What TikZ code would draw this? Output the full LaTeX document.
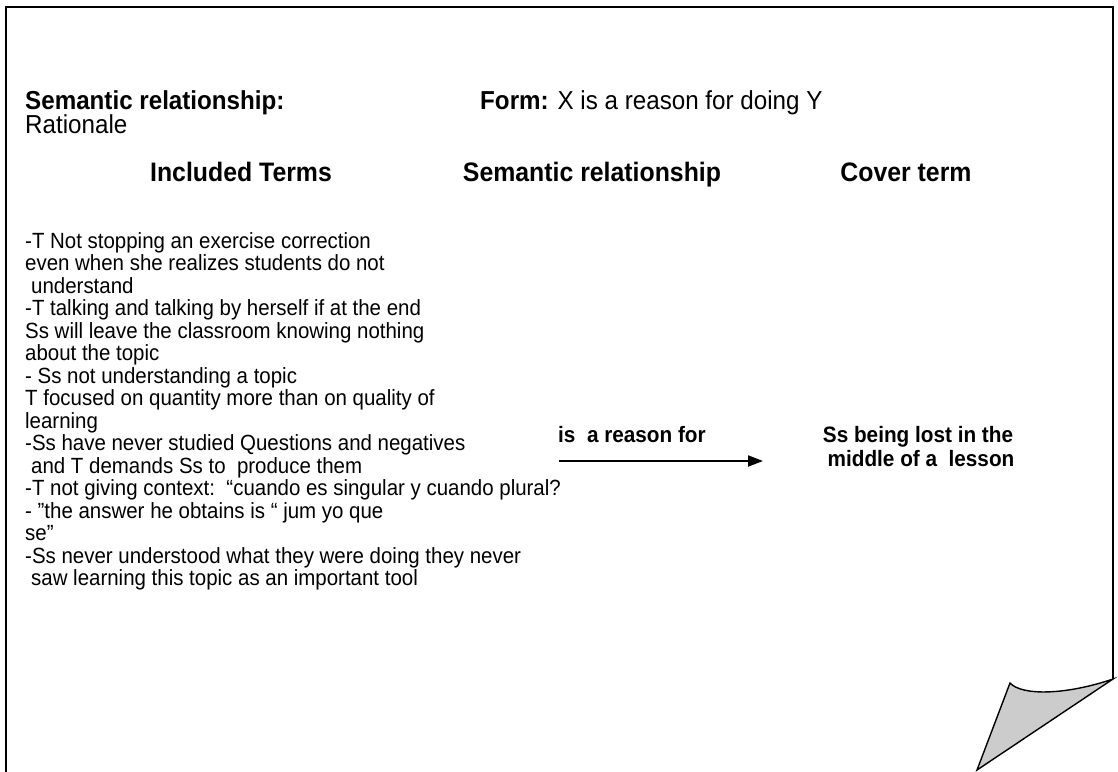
\documentclass[tikz,border=0pt]{standalone}
\usepackage{fontspec}
\setmainfont{Liberation Sans}[FakeStretch=0.93]
\usetikzlibrary{arrows.meta}
\definecolor{curlgray}{HTML}{CCCCCC}
\begin{document}
\begin{tikzpicture}[x=1pt,y=-1pt,
  body/.style={inner sep=0pt, anchor=north west, align=left,
    font=\fontsize{22}{22.5}\selectfont},
  title/.style={inner sep=0pt, anchor=base west, font=\fontsize{26}{28}\selectfont},
  colhead/.style={inner sep=0pt, anchor=base, font=\fontsize{26.7}{30}\selectfont\bfseries},
  rel/.style={inner sep=0pt, anchor=base, font=\fontsize{22.3}{24}\selectfont\bfseries},
  page/.style={line width=2pt},
  curl/.style={fill=curlgray, draw=black, line width=1.4pt, line join=miter},
  link/.style={line width=2pt, -{Triangle[length=15pt,width=11pt]}}]
\useasboundingbox (0,0) rectangle (1118,771);

% sheet outline (its lower edge runs off the page)
\begin{scope}
  \clip (0,0) rectangle (1118,771);
  \draw[page] (6,800) -- (6,7) -- (1113,7) -- (1113,679);
\end{scope}
% curled corner
\filldraw[curl] (1010,683) .. controls (1022,696) and (1066,695) .. (1113,679)
  -- (977,770) -- cycle;

% heading lines
\node[title] (semrel) at (25,109) {\bfseries Semantic relationship:};
\node[title] (ratio) at (25,133) {Rationale};
\node[title] (form) at (480,109) {\textbf{Form:} X is a reason for doing Y};

% column heads
\node[colhead] (h1) at (241,181) {Included Terms};
\node[colhead] (h2) at (592,181) {Semantic relationship};
\node[colhead] (h3) at (906,181) {Cover term};

% included terms
\node[body] (terms) at (25,232) {%
-T Not stopping an exercise correction\\
even when she realizes students do not\\
\hspace*{6pt}understand\\
-T talking and talking by herself if at the end\\
Ss will leave the classroom knowing nothing\\
about the topic\\
- Ss not understanding a topic\\
T focused on quantity more than on quality of\\
learning\\
-Ss have never studied Questions and negatives\\
\hspace*{6pt}and T demands Ss to\ \ produce them\\
-T not giving context:\ \ “cuando es singular y cuando plural?\\
- ”the answer he obtains is “ jum yo que\\
se”\\
-Ss never understood what they were doing they never\\
\hspace*{6pt}saw learning this topic as an important tool};

% relationship and cover term
\node[rel, anchor=base west] (reason) at (558,442) {is\ \ a reason for};
\node[rel] (cover1) at (918,442) {Ss being lost in the};
\node[rel] (cover2) at (921,466) {middle of a\ \ lesson};
\coordinate (from) at (559,461);
\coordinate (to) at (763,461);
\draw[link] (from) -- (to);
\end{tikzpicture}
\end{document}
